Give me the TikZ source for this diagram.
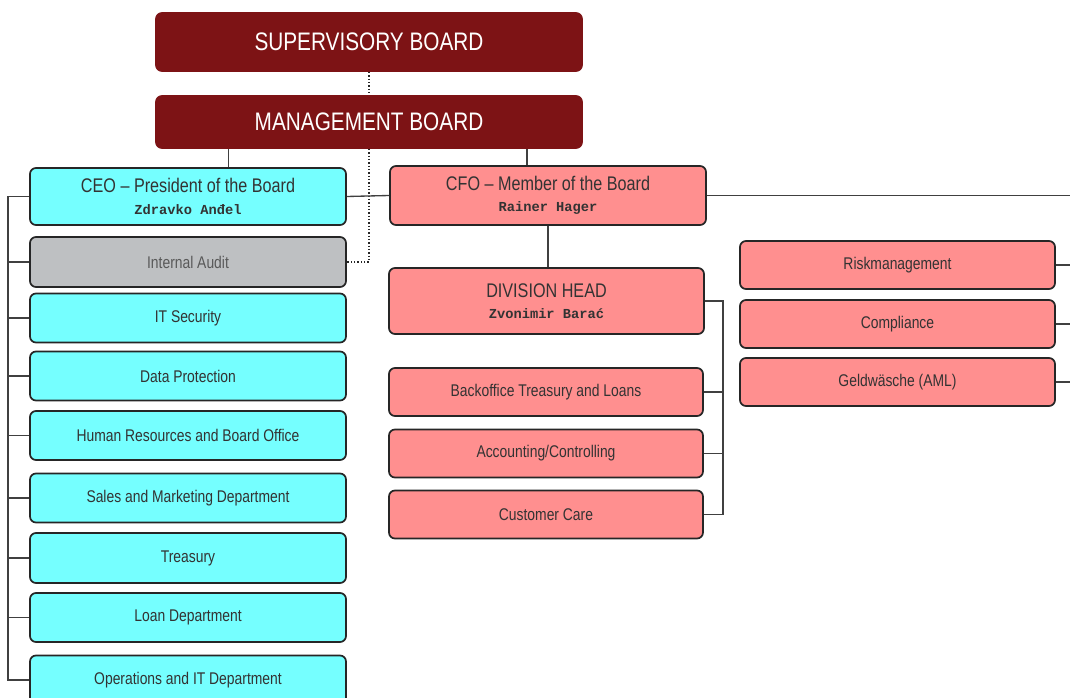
\documentclass[tikz,border=0pt]{standalone}
\usepackage{fontspec}
\setmainfont{Liberation Sans}[FakeStretch=0.82]
\newfontfamily\namefont{Liberation Mono}
\usepackage{xcolor}
\usetikzlibrary{positioning,calc}

\definecolor{boardred}{HTML}{7D1315}
\definecolor{ceocyan}{HTML}{75FFFF}
\definecolor{cfopink}{HTML}{FF8F8F}
\definecolor{auditgrey}{HTML}{BEC0C2}
\definecolor{linegrey}{HTML}{404040}

\tikzset{
  orgbox/.style={draw=black!85, line width=1.3pt, rounded corners=4.5pt, inner sep=0pt,
    align=center, text=black!80, minimum width=237pt, minimum height=36.75pt,
    font=\fontsize{12.7}{14}\selectfont},
  board/.style={orgbox, fill=boardred, draw=boardred, text=white, minimum width=319.5pt,
    font=\fontsize{19}{22}\selectfont},
  ceobox/.style={orgbox, fill=ceocyan},
  cfobox/.style={orgbox, fill=cfopink},
  headbox/.style={font=\fontsize{14.8}{17}\selectfont},
  link/.style={draw=linegrey, line width=1pt},
  dotlink/.style={draw=black!85, line width=1.4pt, dash pattern=on 1.2pt off 1.3pt},
}
\newcommand{\person}[1]{{\namefont\bfseries\fontsize{10.3}{12}\selectfont #1}}

\begin{document}
\begin{tikzpicture}[x=0.75pt, y=-0.75pt]
    \useasboundingbox (0,0) rectangle (1070,698);
    \clip (0,0) rectangle (1070,698);

    \node[board, minimum height=43.5pt] (sb) at (369,42) {SUPERVISORY BOARD};
    \node[board, minimum height=39pt] (mb) at (369,122) {MANAGEMENT BOARD};

    \node[ceobox, headbox, minimum height=42.75pt] (ceo) at (188,196.5) {CEO – President of the Board\\[-1pt]\person{Zdravko Anđel}};
    \node[orgbox, fill=auditgrey, text=black!65, minimum height=37.5pt] (audit) at (188,262) {Internal Audit};
    \node[ceobox] (itsec) at (188,318) {IT Security};
    \node[ceobox] (dataprot) at (188,376) {Data Protection};
    \node[ceobox] (hr) at (188,435.5) {Human Resources and Board Office};
    \node[ceobox] (sales) at (188,498) {Sales and Marketing Department};
    \node[ceobox, minimum height=37.5pt] (treas) at (188,558) {Treasury};
    \node[ceobox] (loan) at (188,617.5) {Loan Department};
    \node[ceobox] (ops) at (188,680) {Operations and IT Department};

    \node[cfobox, headbox, minimum height=44.25pt] (cfo) at (548,195.5) {CFO – Member of the Board\\[-1pt]\person{Rainer Hager}};
    \node[cfobox, headbox, minimum width=236.25pt, minimum height=49.5pt] (div) at (546.5,301) {DIVISION HEAD\\[-1pt]\person{Zvonimir Barać}};
    \node[cfobox, minimum width=235.5pt, minimum height=36pt] (back) at (546,392) {Backoffice Treasury and Loans};
    \node[cfobox, minimum width=235.5pt, minimum height=36pt] (acct) at (546,453.5) {Accounting/Controlling};
    \node[cfobox, minimum width=235.5pt, minimum height=36pt] (care) at (546,514.5) {Customer Care};

    \node[cfobox, minimum width=236.25pt, minimum height=36pt] (risk) at (897.5,265) {Riskmanagement};
    \node[cfobox, minimum width=236.25pt, minimum height=36pt] (comp) at (897.5,324) {Compliance};
    \node[cfobox, minimum width=236.25pt, minimum height=36pt] (aml) at (897.5,382) {Geldwäsche (AML)};

    \coordinate (rim) at (1080,0);
    \coordinate (mbl) at ($(mb.south west)!0.172!(mb.south east)$);
    \coordinate (mbr) at ($(mb.south west)!0.869!(mb.south east)$);
    \coordinate (lbus) at ($(ceo.west)+(-21,0)$);
    \coordinate (dbus) at ($(div.east)+(18,0)$);

    \draw[dotlink] (sb.south) -- (mb.north);
    \draw[dotlink] (mb.south) |- (audit.east);
    \draw[link] (mbl) -- (mbl |- ceo.north);
    \draw[link] (mbr) -- (mbr |- cfo.north);
    \draw[link] (ceo.east) -- (cfo.west);
    \draw[link] (cfo.east) -- (cfo.east -| rim);
    \draw[link] (cfo.south) -- (cfo.south |- div.north);

    \draw[link] (ceo.west) -- (lbus) |- (ops.west);
    \foreach \n in {audit,itsec,dataprot,hr,sales,treas,loan}
        \draw[link] (\n.west) -- (\n.west -| lbus);

    \draw[link] (div.east) -- (dbus) |- (care.east);
    \foreach \n in {back,acct}
        \draw[link] (\n.east) -- (\n.east -| dbus);

    \foreach \n in {risk,comp,aml}
        \draw[link] (\n.east) -- (\n.east -| rim);

\end{tikzpicture}
\end{document}
